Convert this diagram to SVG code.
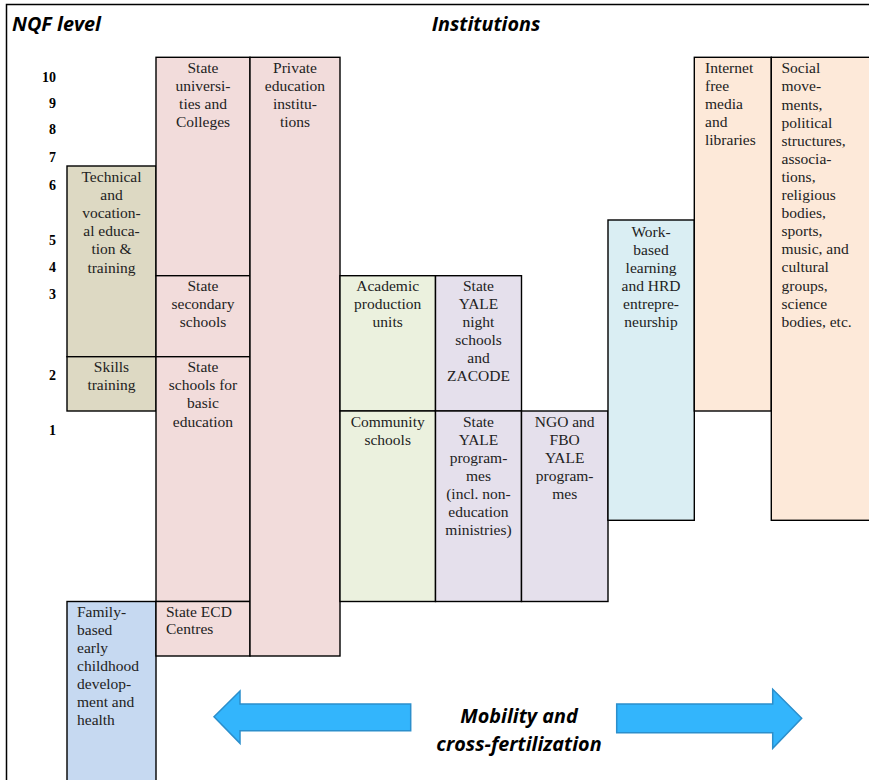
<svg xmlns="http://www.w3.org/2000/svg" width="869" height="780" viewBox="0 0 869 780">
  <style>
    .box { stroke: #000; stroke-width: 1.4; }
    .pink { fill: #f2dcdb; }
    .olive { fill: #ddd9c3; }
    .green { fill: #ebf1de; }
    .lav { fill: #e5e0ec; }
    .sky { fill: #daeef3; }
    .peach { fill: #fde9d9; }
    .blue { fill: #c6d9f1; }
    .t { font-family: "Liberation Serif", "Times New Roman", serif; font-size: 15.5px; fill: #222; }
    .c { text-anchor: middle; }
    .lvl { font-family: "Liberation Serif", "Times New Roman", serif; font-size: 14px; font-weight: bold; fill: #000; text-anchor: end; }
    .head { font-family: "Open Sans", "Noto Sans", sans-serif; font-size: 19.8px; font-weight: bold; font-style: italic; fill: #000; }
    .arrow { fill: #33b5fc; stroke: #2b8fcc; stroke-width: 1.5; stroke-linejoin: miter; }
  </style>

  <!-- outer frame -->
  <rect x="6.5" y="4.5" width="880" height="800" fill="#fff" stroke="#000" stroke-width="1.5"/>

  <!-- headings -->
  <text class="head" x="12" y="31">NQF level</text>
  <text class="head" x="486" y="31" text-anchor="middle">Institutions</text>

  <!-- NQF levels -->
  <g id="levels">
    <text class="lvl" x="56" y="81.5">10</text>
    <text class="lvl" x="56" y="107.5">9</text>
    <text class="lvl" x="56" y="133.5">8</text>
    <text class="lvl" x="56" y="161.5">7</text>
    <text class="lvl" x="56" y="190">6</text>
    <text class="lvl" x="56" y="245">5</text>
    <text class="lvl" x="56" y="271.5">4</text>
    <text class="lvl" x="56" y="299">3</text>
    <text class="lvl" x="56" y="380">2</text>
    <text class="lvl" x="56" y="435">1</text>
  </g>

  <g id="tvet">
    <rect class="box olive" x="67" y="166" width="89" height="190.7"/>
    <text class="t c" x="111.5" y="181.7">Technical</text>
    <text class="t c" x="111.5" y="199.9">and</text>
    <text class="t c" x="111.5" y="218">vocation-</text>
    <text class="t c" x="111.5" y="236.2">al educa-</text>
    <text class="t c" x="111.5" y="254.4">tion &amp;</text>
    <text class="t c" x="111.5" y="272.6">training</text>
  </g>

  <g id="skills">
    <rect class="box olive" x="67" y="356.7" width="89" height="54.3"/>
    <text class="t c" x="111.5" y="372">Skills</text>
    <text class="t c" x="111.5" y="390">training</text>
  </g>

  <g id="family-ecd">
    <rect class="box blue" x="67" y="601.5" width="89" height="200"/>
    <text class="t" x="77" y="616.5">Family-</text>
    <text class="t" x="77" y="634.5">based</text>
    <text class="t" x="77" y="652.5">early</text>
    <text class="t" x="77" y="670.5">childhood</text>
    <text class="t" x="77" y="688.5">develop-</text>
    <text class="t" x="77" y="706.5">ment and</text>
    <text class="t" x="77" y="724.5">health</text>
  </g>

  <g id="state-universities">
    <rect class="box pink" x="156" y="57.3" width="94" height="218.4"/>
    <text class="t c" x="203" y="73.3">State</text>
    <text class="t c" x="203" y="91.1">universi-</text>
    <text class="t c" x="203" y="108.9">ties and</text>
    <text class="t c" x="203" y="126.7">Colleges</text>
  </g>

  <g id="state-secondary">
    <rect class="box pink" x="156" y="275.7" width="94" height="81"/>
    <text class="t c" x="203" y="291">State</text>
    <text class="t c" x="203" y="309">secondary</text>
    <text class="t c" x="203" y="327">schools</text>
  </g>

  <g id="state-basic">
    <rect class="box pink" x="156" y="356.7" width="94" height="244.8"/>
    <text class="t c" x="203" y="372">State</text>
    <text class="t c" x="203" y="390">schools for</text>
    <text class="t c" x="203" y="408">basic</text>
    <text class="t c" x="203" y="426.5">education</text>
  </g>

  <g id="state-ecd">
    <rect class="box pink" x="156" y="601.5" width="94" height="54.5"/>
    <text class="t" x="166" y="616.5">State ECD</text>
    <text class="t" x="166" y="634.3">Centres</text>
  </g>

  <g id="private">
    <rect class="box pink" x="250" y="57.3" width="90" height="598.7"/>
    <text class="t c" x="295" y="73.3">Private</text>
    <text class="t c" x="295" y="91.1">education</text>
    <text class="t c" x="295" y="108.9">institu-</text>
    <text class="t c" x="295" y="126.7">tions</text>
  </g>

  <g id="academic-production">
    <rect class="box green" x="340" y="275.7" width="95.5" height="135.3"/>
    <text class="t c" x="387.7" y="291">Academic</text>
    <text class="t c" x="387.7" y="309">production</text>
    <text class="t c" x="387.7" y="327">units</text>
  </g>

  <g id="community-schools">
    <rect class="box green" x="340" y="411" width="95.5" height="190.5"/>
    <text class="t c" x="387.7" y="427">Community</text>
    <text class="t c" x="387.7" y="445">schools</text>
  </g>

  <g id="yale-night">
    <rect class="box lav" x="435.5" y="275.7" width="86" height="135.3"/>
    <text class="t c" x="478.5" y="291">State</text>
    <text class="t c" x="478.5" y="309">YALE</text>
    <text class="t c" x="478.5" y="327">night</text>
    <text class="t c" x="478.5" y="345">schools</text>
    <text class="t c" x="478.5" y="363">and</text>
    <text class="t c" x="478.5" y="381">ZACODE</text>
  </g>

  <g id="yale-state">
    <rect class="box lav" x="435.5" y="411" width="86" height="190.5"/>
    <text class="t c" x="478.5" y="427">State</text>
    <text class="t c" x="478.5" y="445">YALE</text>
    <text class="t c" x="478.5" y="463">program-</text>
    <text class="t c" x="478.5" y="481">mes</text>
    <text class="t c" x="478.5" y="499">(incl. non-</text>
    <text class="t c" x="478.5" y="517">education</text>
    <text class="t c" x="478.5" y="535">ministries)</text>
  </g>

  <g id="yale-ngo">
    <rect class="box lav" x="521.5" y="411" width="86.5" height="190.5"/>
    <text class="t c" x="564.7" y="427">NGO and</text>
    <text class="t c" x="564.7" y="445">FBO</text>
    <text class="t c" x="564.7" y="463">YALE</text>
    <text class="t c" x="564.7" y="481">program-</text>
    <text class="t c" x="564.7" y="499">mes</text>
  </g>

  <g id="work-based">
    <rect class="box sky" x="608" y="220" width="86.3" height="300.3"/>
    <text class="t c" x="651" y="236.5">Work-</text>
    <text class="t c" x="651" y="254.5">based</text>
    <text class="t c" x="651" y="272.5">learning</text>
    <text class="t c" x="651" y="290.5">and HRD</text>
    <text class="t c" x="651" y="308.5">entrepre-</text>
    <text class="t c" x="651" y="326.5">neurship</text>
  </g>

  <g id="internet-media">
    <rect class="box peach" x="694.3" y="57.3" width="77" height="353.7"/>
    <text class="t" x="705" y="73.3">Internet</text>
    <text class="t" x="705" y="91.3">free</text>
    <text class="t" x="705" y="109.3">media</text>
    <text class="t" x="705" y="127.3">and</text>
    <text class="t" x="705" y="145.3">libraries</text>
  </g>

  <g id="social-movements">
    <rect class="box peach" x="771.3" y="57.3" width="110" height="463"/>
    <text class="t" x="781.5" y="73.3">Social</text>
    <text class="t" x="781.5" y="91.4">move-</text>
    <text class="t" x="781.5" y="109.5">ments,</text>
    <text class="t" x="781.5" y="127.6">political</text>
    <text class="t" x="781.5" y="145.7">structures,</text>
    <text class="t" x="781.5" y="163.8">associa-</text>
    <text class="t" x="781.5" y="181.9">tions,</text>
    <text class="t" x="781.5" y="200">religious</text>
    <text class="t" x="781.5" y="218.1">bodies,</text>
    <text class="t" x="781.5" y="236.2">sports,</text>
    <text class="t" x="781.5" y="254.3">music, and</text>
    <text class="t" x="781.5" y="272.4">cultural</text>
    <text class="t" x="781.5" y="290.5">groups,</text>
    <text class="t" x="781.5" y="308.6">science</text>
    <text class="t" x="781.5" y="326.7">bodies, etc.</text>
  </g>

  <!-- mobility arrows -->
  <g id="connectors">
    <path class="arrow" d="M214,716.7 L240,691 L240,704 L410.7,704 L410.7,730.7 L240,730.7 L240,743.3 Z"/>
    <path class="arrow" d="M801.7,718.3 L772.7,689.3 L772.7,704 L616.7,704 L616.7,732.7 L772.7,732.7 L772.7,748.3 Z"/>
    <text class="head" x="519" y="723" text-anchor="middle">Mobility and</text>
    <text class="head" x="519" y="751" text-anchor="middle">cross-fertilization</text>
  </g>
</svg>
